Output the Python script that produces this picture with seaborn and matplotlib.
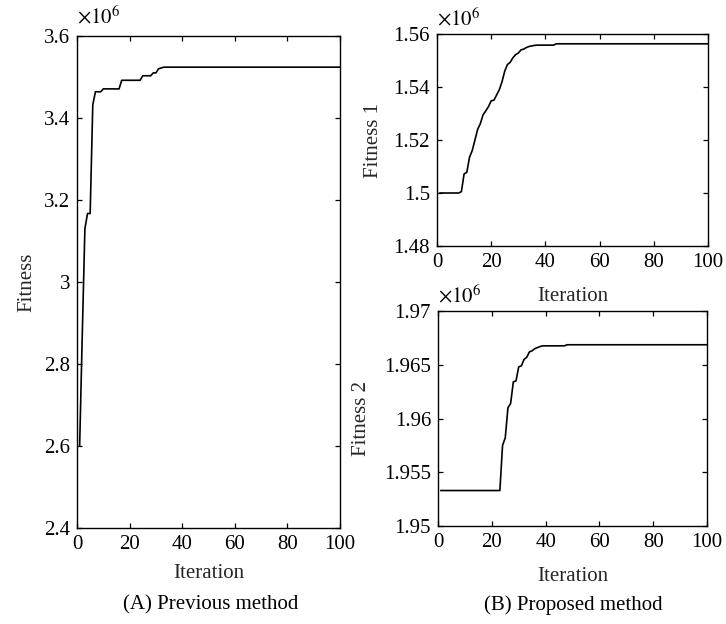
import matplotlib
matplotlib.use("Agg")
import matplotlib.pyplot as plt
import seaborn as sns
import pandas as pd
from matplotlib.ticker import FuncFormatter

# Best fitness per iteration (values in units of 10^6)
iterations = list(range(1, 101))

previous_fitness = (
    [2.600, 2.870, 3.130, 3.167, 3.167, 3.432, 3.464, 3.464, 3.464, 3.471,
     3.471, 3.471, 3.471, 3.471, 3.471, 3.471, 3.492, 3.492, 3.492, 3.492,
     3.492, 3.492, 3.492, 3.492, 3.503, 3.503, 3.503, 3.503, 3.510, 3.510,
     3.520, 3.522]
    + [3.524] * 68
)

proposed_fitness_1 = (
    [1.5000, 1.5000, 1.5000, 1.5000, 1.5000, 1.5000, 1.5000, 1.5000, 1.5005, 1.5072,
     1.5078, 1.5135, 1.5160, 1.5200, 1.5240, 1.5262, 1.5295, 1.5310, 1.5326, 1.5348,
     1.5350, 1.5370, 1.5390, 1.5420, 1.5460, 1.5485, 1.5493, 1.5510, 1.5522, 1.5528,
     1.5540, 1.5543, 1.5549, 1.5553, 1.5555, 1.5557, 1.5558, 1.5558, 1.5558, 1.5558,
     1.5558, 1.5558, 1.5558]
    + [1.5563] * 57
)

proposed_fitness_2 = (
    [1.95330] * 23
    + [1.95750, 1.95820, 1.96100, 1.96140, 1.96340, 1.96350, 1.96480, 1.96490, 1.96550,
       1.96570, 1.96620, 1.96630, 1.96650, 1.96660, 1.96670]
    + [1.96676] * 9
    + [1.96686] * 53
)

x_ticks = [0, 20, 40, 60, 80, 100]
prev_ticks = [2.4, 2.6, 2.8, 3.0, 3.2, 3.4, 3.6]
fit1_ticks = [1.48, 1.50, 1.52, 1.54, 1.56]
fit2_ticks = [1.950, 1.955, 1.960, 1.965, 1.970]

sns.set_theme(style="ticks")
plt.rcParams["font.family"] = ["Liberation Serif", "DejaVu Serif"]
plt.rcParams["mathtext.fontset"] = "stix"
plt.rcParams["axes.linewidth"] = 1.0
plt.rcParams["xtick.direction"] = "in"
plt.rcParams["ytick.direction"] = "in"
plt.rcParams["xtick.major.size"] = 3.8
plt.rcParams["ytick.major.size"] = 3.8
plt.rcParams["xtick.major.width"] = 0.9
plt.rcParams["ytick.major.width"] = 0.9
plt.rcParams["xtick.color"] = "black"
plt.rcParams["ytick.color"] = "black"
plt.rcParams["axes.edgecolor"] = "black"
plt.rcParams["text.color"] = "black"

FS = 15

W, H = 726, 624
fig = plt.figure(figsize=(W / 100, H / 100), dpi=100)


def px_axes(x0, y0, x1, y1):
    return fig.add_axes([x0 / W, 1 - y1 / H, (x1 - x0) / W, (y1 - y0) / H])


ax_prev = px_axes(77, 36, 340, 528)
ax_f1 = px_axes(437, 34, 708, 246)
ax_f2 = px_axes(438, 311, 707, 526)

fmt = FuncFormatter(lambda v, _: f"{v:g}")

panels = [
    (ax_prev, previous_fitness, prev_ticks, "Fitness", -0.190, -0.0915),
    (ax_f1, proposed_fitness_1, fit1_ticks, "Fitness 1", -0.236, -0.236),
    (ax_f2, proposed_fitness_2, fit2_ticks, "Fitness 2", -0.283, -0.233),
]

for ax, values, yticks, ylabel, ylab_x, xlab_y in panels:
    df = pd.DataFrame({"Iteration": iterations, "Fitness": values})
    sns.lineplot(data=df, x="Iteration", y="Fitness", ax=ax,
                 color="black", linewidth=1.2)
    ax.set_xlim(0, 100)
    ax.set_ylim(yticks[0], yticks[-1])
    ax.set_xticks(x_ticks)
    ax.set_yticks(yticks)
    ax.yaxis.set_major_formatter(fmt)
    ax.tick_params(axis="both", which="major", labelsize=FS, top=True, right=True, pad=5)
    for s in ax.spines.values():
        s.set_visible(True)
        s.set_color("black")
    ax.set_xlabel("Iteration", fontsize=FS, va="center")
    ax.set_ylabel(ylabel, fontsize=FS, va="center")
    ax.xaxis.set_label_coords(0.5, xlab_y)
    ax.yaxis.set_label_coords(ylab_x, 0.5)
    ax.text(0.0, 1.015, r"$\times10^{6}$", transform=ax.transAxes,
            fontsize=FS, ha="left", va="bottom")

fig.text(211 / W, 1 - 605 / H, "(A) Previous method", fontsize=FS, ha="center", va="center")
fig.text(573 / W, 1 - 605 / H, "(B) Proposed method", fontsize=FS, ha="center", va="center")

fig.savefig("out.png", dpi=100, facecolor="white")
